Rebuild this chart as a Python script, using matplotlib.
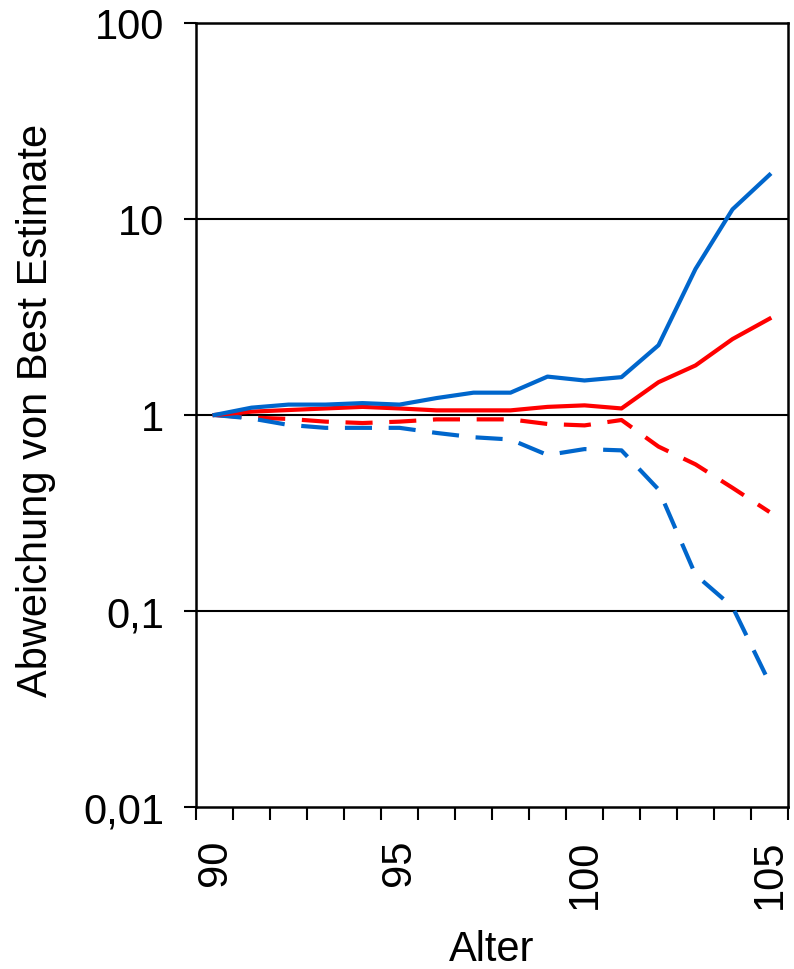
import matplotlib
matplotlib.use("Agg")
import matplotlib.pyplot as plt
from matplotlib.ticker import FixedLocator, FixedFormatter, NullLocator

ages = list(range(90, 106))
blue_upper = [1.0, 1.09, 1.13, 1.13, 1.15, 1.13, 1.22, 1.30, 1.30, 1.57, 1.50, 1.56, 2.27, 5.56, 11.2, 16.8]
red_upper = [1.0, 1.04, 1.06, 1.08, 1.10, 1.08, 1.056, 1.056, 1.056, 1.10, 1.12, 1.08, 1.47, 1.79, 2.44, 3.10]
red_lower = [1.0, 0.97, 0.955, 0.925, 0.91, 0.925, 0.95, 0.95, 0.95, 0.90, 0.885, 0.943, 0.69, 0.56, 0.425, 0.32]
blue_lower = [1.0, 0.96, 0.89, 0.86, 0.86, 0.86, 0.81, 0.77, 0.75, 0.625, 0.67, 0.66, 0.417, 0.153, 0.105, 0.043]

ytick_vals = [0.01, 0.1, 1, 10, 100]
ytick_labels = ["0,01", "0,1", "1", "10", "100"]
xtick_vals = [90, 95, 100, 105]
xtick_labels = ["90", "95", "100", "105"]

plt.rcParams['font.family'] = ['Liberation Sans', 'DejaVu Sans']

BLUE = "#0066CC"
RED = "#FF0000"
FS = 30

fig = plt.figure(figsize=(7.94, 9.70), dpi=100)
ax = fig.add_axes([196/794, 1-808/970, (788-196)/794, (808-24)/970])

ax.set_yscale('log')
ax.set_ylim(0.01, 100)
ax.set_xlim(89.5, 105.5)

for y in [0.1, 1, 10]:
    ax.axhline(y, color='black', lw=1.5, zorder=1)

lw = 3.0
ax.plot(ages, red_lower, color=RED, lw=lw, dashes=(6.5, 4), zorder=3)
ax.plot(ages, blue_lower, color=BLUE, lw=lw, dashes=(6.5, 4), zorder=3)
ax.plot(ages, red_upper, color=RED, lw=lw, zorder=4)
ax.plot(ages, blue_upper, color=BLUE, lw=lw, zorder=4)

ax.yaxis.set_major_locator(FixedLocator(ytick_vals))
ax.yaxis.set_major_formatter(FixedFormatter(ytick_labels))
ax.yaxis.set_minor_locator(NullLocator())

ax.xaxis.set_major_locator(FixedLocator(xtick_vals))
ax.set_xticklabels(xtick_labels, rotation=90, va='top', ha='center')
ax.xaxis.set_minor_locator(FixedLocator([a - 0.5 for a in ages] + [105.5]))

ax.tick_params(axis='y', which='major', direction='out', length=9, width=1.5,
               labelsize=FS, pad=14)
ax.tick_params(axis='x', which='major', length=0, labelsize=FS, pad=23)
ax.tick_params(axis='x', which='minor', direction='out', length=9, width=1.5)

for s in ax.spines.values():
    s.set_linewidth(1.8)
    s.set_color('black')

ax.set_xlabel("Alter", fontsize=FS)
ax.xaxis.set_label_coords(0.5, (1 - 961/970 - (1-808/970)) / ((808-24)/970))
ax.xaxis.label.set_va('baseline')
ax.set_ylabel("Abweichung von Best Estimate", fontsize=FS)
ax.yaxis.set_label_coords((56 - 196) / 592, (1 - 410/970 - (1-808/970)) / ((808-24)/970))

fig.savefig("out.png", dpi=100)
